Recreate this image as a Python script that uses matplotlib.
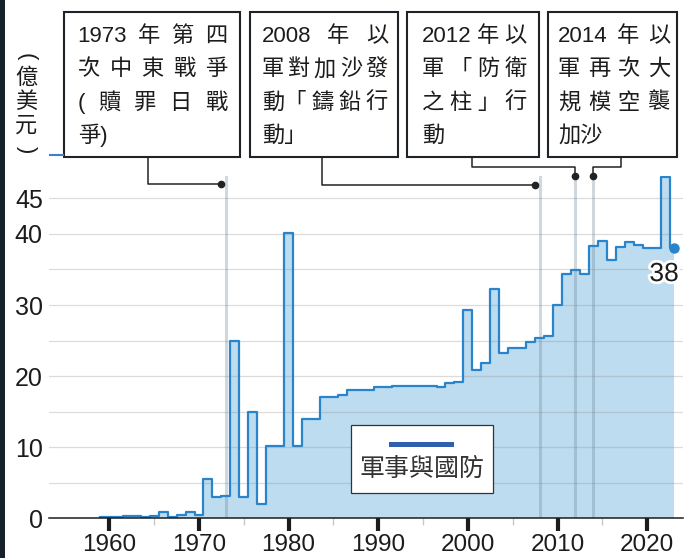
import matplotlib
matplotlib.use("Agg")
import matplotlib.pyplot as plt
import matplotlib.patheffects as pe
from matplotlib.patches import Rectangle
from matplotlib.lines import Line2D

plt.rcParams["font.family"] = ["Liberation Sans", "Noto Sans CJK TC"]

# data (億美元)
years = list(range(1959, 2024))
spending = [
    0.12, 0.12, 0.12, 0.28, 0.28, 0.12, 0.33, 0.95, 0.22, 0.47,   # 1959-1968
    0.95, 0.50, 5.5, 3.05, 3.15, 24.9, 3.05, 15.0, 2.05, 10.1,    # 1969-1978
    10.1, 40.1, 10.1, 14.0, 14.0, 17.0, 17.0, 17.4, 18.0, 18.0,   # 1979-1988
    18.0, 18.5, 18.5, 18.65, 18.65, 18.65, 18.55, 18.65, 18.4, 19.0,  # 1989-1998
    19.2, 29.3, 20.9, 21.9, 32.3, 23.2, 23.9, 23.9, 24.85, 25.4,  # 1999-2008
    25.7, 30.05, 34.3, 34.9, 34.3, 38.3, 39.05, 36.3, 38.2, 38.8,  # 2009-2018
    38.5, 38.0, 38.0, 48.0, 38.0,                                 # 2019-2023
]
series_name = "軍事與國防"
unit_chars = ["億", "美", "元"]
x_ticks = [1960, 1970, 1980, 1990, 2000, 2010, 2020]
x_minor = [1965, 1975, 1985, 1995, 2005, 2015]
y_ticks = [0, 10, 20, 30, 40, 45]

events = [1973, 2008, 2012, 2014]
event_notes = [
    [["1973", "年", "第", "四"], ["次", "中", "東", "戰", "爭"],
     ["(", "贖", "罪", "日", "戰"], ["爭)"]],
    [["2008", "年", "以"], ["軍", "對", "加", "沙", "發"],
     ["動「", "鑄", "鉛", "行"], ["動」"]],
    [["2012", "年", "以"], ["軍", "「", "防", "衛"],
     ["之", "柱", "」", "行"], ["動"]],
    [["2014", "年", "以"], ["軍", "再", "次", "大"],
     ["規", "模", "空", "襲"], ["加沙"]],
]

W, H = 685, 558
fig = plt.figure(figsize=(W / 100, H / 100), dpi=100)


def fx(x):
    return x / W


def fy(y):
    return 1 - y / H


ax = fig.add_axes([fx(49.3), fy(518.3), (683 - 49.3) / W, (518.3 - 175.6) / H])

fill_c = "#bddcef"
line_c = "#2a84cc"
ink = "#1c1c1c"

ax.fill_between(years, spending, step="mid", color=fill_c, lw=0, zorder=1)
ax.step(years, spending, where="mid", color=line_c, lw=1.6, zorder=4)
ax.plot(years[-1], spending[-1], "o", ms=6.5, color=line_c, zorder=5, clip_on=False)

for v in range(5, 50, 5):
    ax.axhline(v, color="#8c8c8c", alpha=0.3, lw=0.9, zorder=2.5)
for e in events:
    ax.axvline(e, color="#6f8496", alpha=0.32, lw=2.2, zorder=3)

ax.set_xlim(1953.3, 2024.0)
ax.set_ylim(0, 48.2)
ax.set_xticks(x_ticks)
ax.set_xticks(x_minor, minor=True)
ax.set_yticks(y_ticks)
ax.tick_params(axis="x", which="major", length=9, width=3, color=ink,
               labelsize=17.5, pad=2.5, labelcolor=ink)
ax.tick_params(axis="x", which="minor", length=5, width=1, color="#c8c8c8")
ax.tick_params(axis="y", length=0, pad=4.7, labelsize=18, labelcolor=ink)
for s in ["top", "right", "left"]:
    ax.spines[s].set_visible(False)
ax.spines["bottom"].set_linewidth(1.1)
ax.spines["bottom"].set_color(ink)
ax.spines["bottom"].set_zorder(6)

ax.annotate(f"{spending[-1]:.0f}", (years[-1], spending[-1]), xytext=(-10, -26),
            textcoords="offset pixels", ha="center", va="center", fontsize=19,
            color=ink, zorder=7,
            path_effects=[pe.withStroke(linewidth=4, foreground="white")])

# unit label, stacked vertically with turned brackets
fig.text(fx(26), fy(57), "(", fontsize=16, rotation=-90, ha="center", va="center",
         color=ink)
for ch, yc in zip(unit_chars, [78, 102.5, 126]):
    fig.text(fx(26), fy(yc), ch, fontsize=16, ha="center", va="center", color=ink)
fig.text(fx(26), fy(150), ")", fontsize=16, rotation=-90, ha="center", va="center",
         color=ink)

# left dark strip and the small blue stub near the unit label
fig.add_artist(Rectangle((0, 0), 4.5 / W, 1, transform=fig.transFigure,
                         color="#16212b", lw=0))
fig.add_artist(Line2D([fx(50), fx(63)], [fy(155), fy(155)], color="#3d7fd0", lw=1.5))

# annotation boxes
renderer = fig.canvas.get_renderer()
box_x = [(64, 240), (250, 398), (407, 539), (548, 677)]
text_x = [(77.7, 227), (261.7, 388), (421.7, 526.7), (558, 670)]
baselines = [42, 75.3, 108.6, 142]
conn_x = [148, 321.7, 472, 621]
conn_y = [184, 185, 167, 167]
dot_y = [184, 185, 176, 176]
dot_shift = [-0.5, -0.5, 0, 0]


def justify(tokens, x0, x1, base, spread):
    arts = [fig.text(0, fy(base), t, fontsize=16, va="baseline", ha="left", color=ink)
            for t in tokens]
    widths = [a.get_window_extent(renderer).width for a in arts]
    gap = 0
    if spread and len(tokens) > 1:
        gap = (x1 - x0 - sum(widths)) / (len(tokens) - 1)
    x = x0
    for a, w in zip(arts, widths):
        a.set_x(fx(x))
        x += w + gap


for i, e in enumerate(events):
    bx0, bx1 = box_x[i]
    fig.add_artist(Rectangle((fx(bx0), fy(157)), (bx1 - bx0) / W, (157 - 12) / H,
                             transform=fig.transFigure, fill=False, ec="#1e2328", lw=1.5))
    lines = event_notes[i]
    for j, toks in enumerate(lines):
        justify(toks, text_x[i][0], text_x[i][1], baselines[j], j < len(lines) - 1)
    dx = ax.transData.transform((e + dot_shift[i], 0))[0]
    xs = [fx(conn_x[i]), fx(conn_x[i]), fx(dx), fx(dx)]
    ys = [fy(157), fy(conn_y[i]), fy(conn_y[i]), fy(dot_y[i])]
    fig.add_artist(Line2D(xs, ys, color="#222222", lw=1.1))
    fig.add_artist(Line2D([fx(dx)], [fy(dot_y[i])], marker="o", ms=4.5, color="#222222"))

# legend box drawn by hand: sample line above the label
fig.add_artist(Rectangle((fx(350.7), fy(493.3)), (493.3 - 350.7) / W, (493.3 - 425) / H,
                         transform=fig.transFigure, facecolor="white", ec="#333333",
                         lw=0.9, zorder=8))
fig.add_artist(Line2D([fx(391), fx(451)], [fy(444.3), fy(444.3)], color="#2f5fae",
                      lw=3.6, zorder=9))
fig.text(fx(422), fy(469), series_name, fontsize=18, ha="center", va="center",
         color="#333333", zorder=9)

fig.savefig("out.png", dpi=100)
